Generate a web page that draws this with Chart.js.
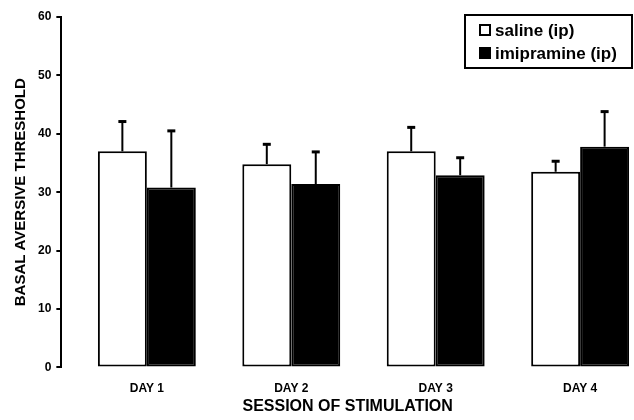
<!DOCTYPE html>
<html>
<head>
<meta charset="utf-8">
<script src="https://cdn.jsdelivr.net/npm/chart.js@4/dist/chart.umd.min.js"></script>
<style>
  body { margin: 0; background: #fff; }
  #wrap { width: 634px; height: 420px; }
</style>
</head>
<body>
<div id="wrap"><canvas id="chart"></canvas></div>
<script>
// values
const days = ["DAY 1", "DAY 2", "DAY 3", "DAY 4"];
const saline = [37.0, 34.8, 37.0, 33.5];
const salineErr = [5.1, 3.4, 4.1, 1.8];
const imipramine = [30.8, 31.4, 32.9, 37.8];
const imipramineErr = [9.7, 5.5, 3.0, 6.0];
const seriesNames = ["saline (ip)", "imipramine (ip)"];

const FONT = "'Liberation Sans', Arial, sans-serif";
const errors = [salineErr, imipramineErr];

function points(values) {
    return values.map((v, i) => ({ x: i + 1, y: v }));
}

// upper error bars with a small cap
const errorBars = {
    id: "errorBars",
    afterDatasetsDraw(chart) {
        const ctx = chart.ctx;
        const y = chart.scales.y;
        ctx.save();
        ctx.strokeStyle = "#000";
        chart.data.datasets.forEach((ds, d) => {
            const meta = chart.getDatasetMeta(d);
            meta.data.forEach((bar, i) => {
                const top = y.getPixelForValue(ds.data[i].y + errors[d][i]);
                ctx.lineWidth = 2;
                ctx.beginPath();
                ctx.moveTo(bar.x, bar.y);
                ctx.lineTo(bar.x, top);
                ctx.stroke();
                ctx.lineWidth = 3;
                ctx.beginPath();
                ctx.moveTo(bar.x - 4, top);
                ctx.lineTo(bar.x + 4, top);
                ctx.stroke();
            });
        });
        ctx.restore();
    }
};

// boxed legend in the top right corner
const boxLegend = {
    id: "boxLegend",
    afterDraw(chart) {
        const ctx = chart.ctx;
        const left = chart.width - 169;
        ctx.save();
        ctx.strokeStyle = "#000";
        ctx.lineWidth = 2;
        ctx.strokeRect(left, 15, 167, 53);
        ctx.font = "bold 17px " + FONT;
        ctx.textBaseline = "middle";
        ctx.fillStyle = "#000";
        chart.data.datasets.forEach((ds, d) => {
            const cy = 30 + d * 23;
            if (ds.backgroundColor === "#000") {
                ctx.fillRect(left + 14, cy - 6, 12, 12);
            } else {
                ctx.strokeRect(left + 15, cy - 5, 10, 10);
            }
            ctx.fillText(ds.label, left + 30, cy + 1);
        });
        ctx.restore();
    }
};

new Chart(document.getElementById("chart"), {
    type: "bar",
    data: {
        datasets: [
            {
                label: seriesNames[0],
                data: points(saline),
                backgroundColor: "#fff",
                borderColor: "#000",
                borderWidth: 2,
                borderSkipped: false
            },
            {
                label: seriesNames[1],
                data: points(imipramine),
                backgroundColor: "#000",
                borderColor: "#000",
                borderWidth: 2,
                borderSkipped: false
            }
        ]
    },
    options: {
        responsive: true,
        maintainAspectRatio: false,
        animation: false,
        categoryPercentage: 0.678,
        barPercentage: 1.0,
        layout: { padding: { top: 17, right: 0, left: 12, bottom: 4 } },
        plugins: {
            legend: { display: false },
            tooltip: { enabled: false }
        },
        scales: {
            x: {
                type: "linear",
                offset: false,
                min: 0.408,
                max: 4.373,
                afterBuildTicks: axis => {
                    axis.ticks = days.map((d, i) => ({ value: i + 1 }));
                },
                grid: { display: false, drawTicks: false, offset: false },
                border: { display: false },
                ticks: {
                    padding: 14,
                    maxRotation: 0,
                    minRotation: 0,
                    color: "#000",
                    font: { family: FONT, size: 12, weight: "bold" },
                    callback: v => days[v - 1]
                },
                title: {
                    display: true,
                    text: "SESSION OF STIMULATION",
                    color: "#000",
                    font: { family: FONT, size: 16, weight: "bold" },
                    padding: { top: -13, bottom: 0 }
                }
            },
            y: {
                min: 0,
                max: 60,
                ticks: {
                    stepSize: 10,
                    padding: 5,
                    color: "#000",
                    font: { family: FONT, size: 12, weight: "bold" }
                },
                grid: {
                    drawOnChartArea: false,
                    drawTicks: true,
                    tickLength: 5,
                    color: "#000",
                    lineWidth: 2
                },
                border: { display: true, color: "#000", width: 2 },
                title: {
                    display: true,
                    text: "BASAL AVERSIVE THRESHOLD",
                    color: "#000",
                    font: { family: FONT, size: 15, weight: "bold" },
                    padding: { top: 0, bottom: 3 }
                }
            }
        }
    },
    plugins: [errorBars, boxLegend]
});
</script>
</body>
</html>
